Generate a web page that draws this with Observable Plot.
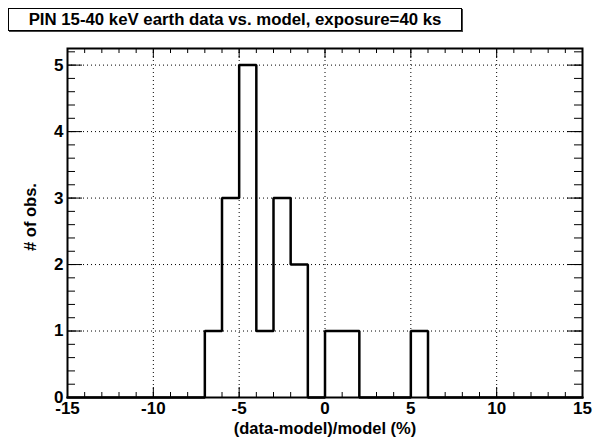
<!DOCTYPE html>
<html>
<head>
<meta charset="utf-8">
<script src="https://cdn.jsdelivr.net/npm/d3@7"></script>
<script src="https://cdn.jsdelivr.net/npm/@observablehq/plot@0.6"></script>
<style>
  html, body { margin: 0; padding: 0; background: #fff; }
  #wrap { position: relative; width: 601px; height: 442px; overflow: hidden; }
  #title {
    position: absolute; left: 8px; top: 8px; width: 452px; height: 21px;
    border: 1px solid #000; box-shadow: 1px 1px 0 #444; background: #fff;
    font-family: "Liberation Sans", Arial, sans-serif; font-weight: bold; font-size: 16.8px;
    line-height: 21px; text-align: center; z-index: 2;
  }
  #chart { position: absolute; left: 0; top: 0; }
</style>
</head>
<body>
<div id="wrap">
  <div id="title">PIN 15-40 keV earth data vs. model, exposure=40 ks</div>
  <div id="chart"></div>
</div>
<script>
// Histogram bins (lower edges, width 1) and counts
const binLow = [-15,-14,-13,-12,-11,-10,-9,-8,-7,-6,-5,-4,-3,-2,-1,0,1,2,3,4,5,6,7,8,9,10,11,12,13,14];
const counts = [0,0,0,0,0,0,0,0,1,3,5,1,3,2,0,1,1,0,0,0,1,0,0,0,0,0,0,0,0,0];
const binUpper = 15;

// Axis ticks and labels
const xMajor = [-15,-10,-5,0,5,10,15];
const xMinor = [-15,-14,-13,-12,-11,-10,-9,-8,-7,-6,-5,-4,-3,-2,-1,0,1,2,3,4,5,6,7,8,9,10,11,12,13,14,15];
const yMajor = [0,1,2,3,4,5];
const yMinor = [0,0.2,0.4,0.6,0.8,1,1.2,1.4,1.6,1.8,2,2.2,2.4,2.6,2.8,3,3.2,3.4,3.6,3.8,4,4.2,4.4,4.6,4.8,5,5.2];
const gridX = [-10,-5,0,5,10];
const gridY = [1,2,3,4,5];
const xTitle = "(data-model)/model (%)";
const yTitle = "# of obs.";

const steps = binLow.map((x, i) => ({x, y: counts[i]}));
steps.push({x: binUpper, y: counts[counts.length - 1]});

const W = 601, H = 442;
const mL = 67, mR = 19, mT = 48, mB = 45;
const fw = W - mL - mR, fh = H - mT - mB;
const font = "'Liberation Sans', Arial, sans-serif";

const chart = Plot.plot({
  width: W, height: H,
  marginLeft: mL, marginRight: mR, marginTop: mT, marginBottom: mB,
  style: {fontFamily: font, fontWeight: "bold", background: "transparent", overflow: "visible"},
  x: {domain: [-15, 15]},
  y: {domain: [0, 5.25]},
  marks: [
    // grid
    Plot.ruleX(gridX, {x: d => d, stroke: "#000", strokeWidth: 1, strokeDasharray: "1,3"}),
    Plot.ruleY(gridY, {y: d => d, stroke: "#000", strokeWidth: 1, strokeDasharray: "1,3"}),
    // x ticks (bottom and top)
    Plot.tickX(xMinor, {x: d => d, insetTop: fh - 5, stroke: "#000"}),
    Plot.tickX(xMinor, {x: d => d, insetBottom: fh - 5, stroke: "#000"}),
    Plot.tickX(xMajor, {x: d => d, insetTop: fh - 10, stroke: "#000"}),
    Plot.tickX(xMajor, {x: d => d, insetBottom: fh - 10, stroke: "#000"}),
    // y ticks (left and right)
    Plot.tickY(yMinor, {y: d => d, insetRight: fw - 8, stroke: "#000"}),
    Plot.tickY(yMinor, {y: d => d, insetLeft: fw - 8, stroke: "#000"}),
    Plot.tickY(yMajor, {y: d => d, insetRight: fw - 15, stroke: "#000"}),
    Plot.tickY(yMajor, {y: d => d, insetLeft: fw - 15, stroke: "#000"}),
    // histogram outline
    Plot.line(steps, {x: "x", y: "y", curve: "step-after", stroke: "#000", strokeWidth: 2.5, strokeLinejoin: "miter"}),
    Plot.frame({stroke: "#000", strokeWidth: 2}),
    // axes labels
    Plot.axisX(xMajor, {tickSize: 0, tickPadding: 4, fontSize: 17, fill: "#000", tickFormat: d => String(d), label: null}),
    Plot.axisY(yMajor, {tickSize: 0, tickPadding: 4, fontSize: 17, fill: "#000", tickFormat: d => String(d), label: null}),
    Plot.text([xTitle], {text: d => d, frameAnchor: "bottom", dy: 36, fontSize: 16.5, fill: "#000"}),
    Plot.text([yTitle], {text: d => d, frameAnchor: "left", textAnchor: "middle", dx: -37, dy: -6, rotate: -90, fontSize: 16.5, fill: "#000"})
  ]
});
document.getElementById("chart").appendChild(chart);
</script>
</body>
</html>
